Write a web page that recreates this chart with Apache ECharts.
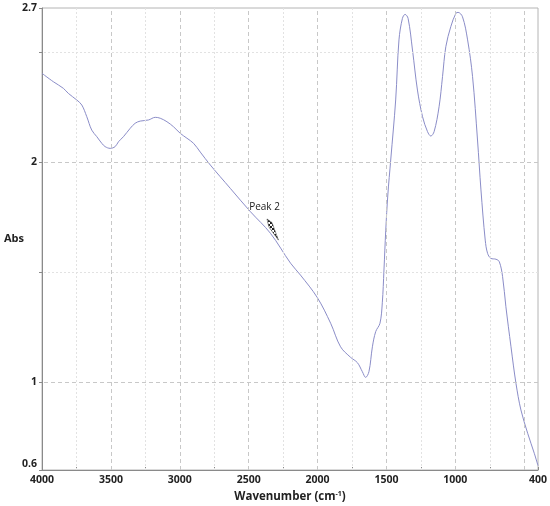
<!DOCTYPE html>
<html>
<head>
<meta charset="utf-8">
<script src="https://cdn.jsdelivr.net/npm/echarts@6/dist/echarts.min.js"></script>
<style>
  html, body { margin: 0; padding: 0; background: #fff; }
  #main { width: 550px; height: 506px; }
</style>
</head>
<body>
<div id="main"></div>
<script>
// spectrum (wavenumber, absorbance)
var wavenumbers = [4000, 3918, 3845, 3809, 3748, 3711, 3675, 3639, 3602, 3566, 3542, 3505, 3469, 3445,
  3409, 3360, 3324, 3287, 3227, 3178, 3142, 3093, 3045, 2996, 2948, 2900, 2851, 2778, 2633, 2487,
  2342, 2196, 2124, 2002, 1905, 1833, 1760, 1711, 1675, 1651, 1627, 1602, 1578, 1547, 1530, 1518,
  1505, 1490, 1469, 1433, 1409, 1384, 1365, 1343, 1311, 1275, 1238, 1202, 1178, 1154, 1118, 1093,
  1069, 1033, 996, 980, 948, 911, 875, 839, 814, 783, 766, 742, 705, 681, 657, 633, 596, 560, 524,
  475, 427, 400];
var absorbance = [2.403, 2.365, 2.335, 2.312, 2.282, 2.259, 2.206, 2.145, 2.115, 2.085, 2.070, 2.062, 2.070, 2.092,
  2.115, 2.153, 2.176, 2.186, 2.191, 2.203, 2.199, 2.183, 2.160, 2.130, 2.108, 2.085, 2.045, 1.986, 1.880, 1.774,
  1.676, 1.540, 1.486, 1.384, 1.267, 1.160, 1.112, 1.088, 1.047, 1.021, 1.047, 1.160, 1.229, 1.267, 1.360, 1.509,
  1.690, 1.850, 2.009, 2.282, 2.555, 2.653, 2.671, 2.653, 2.509, 2.327, 2.206, 2.138, 2.118, 2.138, 2.251, 2.388,
  2.524, 2.615, 2.676, 2.680, 2.660, 2.555, 2.388, 2.100, 1.873, 1.645, 1.585, 1.562, 1.558, 1.547, 1.479, 1.342, 1.160, 0.994, 0.873,
  0.767, 0.676, 0.620];

// axis ticks / labels
var xLabels = [4000, 3500, 3000, 2500, 2000, 1500, 1000, 400];
var xTicks = [4000, 3750, 3500, 3250, 3000, 2750, 2500, 2250, 2000, 1750, 1500, 1250, 1000, 750, 500, 400];
var xMajorGrid = [3500, 3000, 2500, 2000, 1500, 1000, 500];
var xMinorGrid = [3750, 3250, 2750, 2250, 1750, 1250, 750];
var yLabels = [0.6, 1, 2, 2.7];
var yTicks = [0.6, 1, 1.5, 2, 2.5, 2.7];
var yMajorGrid = [1, 2];
var yMinorGrid = [1.5, 2.5];

// "Peak 2" integration wedge
var peakName = 'Peak 2';
var peakWedgeX = [2367, 2331, 2284, 2353];
var peakWedgeY = [1.741, 1.725, 1.645, 1.705];
var peakLabelAt = [2385, 1.795];

var lineColor = '#8b8dc8';

var chart = echarts.init(document.getElementById('main'));

// small checkered fill for the wedge
var checker = document.createElement('canvas');
checker.width = 4; checker.height = 4;
var cx = checker.getContext('2d');
cx.fillStyle = '#fff'; cx.fillRect(0, 0, 4, 4);
cx.fillStyle = '#222'; cx.fillRect(0, 0, 2, 2); cx.fillRect(2, 2, 2, 2);

var seriesData = wavenumbers.map(function (w, i) { return [w, absorbance[i]]; });

var gridLines = [];
xMajorGrid.forEach(function (v) {
  gridLines.push({ xAxis: v, lineStyle: { color: '#c8c8c8', type: [4, 3], width: 1 } });
});
xMinorGrid.forEach(function (v) {
  gridLines.push({ xAxis: v, lineStyle: { color: '#e2e2e2', type: [2, 2], width: 1 } });
});
yMajorGrid.forEach(function (v) {
  gridLines.push({ yAxis: v, lineStyle: { color: '#c8c8c8', type: [4, 3], width: 1 } });
});
yMinorGrid.forEach(function (v) {
  gridLines.push({ yAxis: v, lineStyle: { color: '#e2e2e2', type: [2, 2], width: 1 } });
});

var labelFont = { color: '#222', fontSize: 10.5, fontWeight: 'bold', fontFamily: 'Open Sans' };

var option = {
  animation: false,
  backgroundColor: '#fff',
  grid: {
    left: 42, right: 12, top: 8, bottom: 36,
    outerBoundsMode: 'none', containLabel: false,
    show: true, borderColor: '#b4b4b4', borderWidth: 1
  },
  xAxis: {
    type: 'value',
    min: 400,
    max: 4000,
    inverse: true,
    name: '{a|Wavenumber (cm}{s|-1}{a|)}',
    nameLocation: 'middle',
    nameGap: 20,
    nameMoveOverlap: false,
    nameTextStyle: {
      rich: {
        a: { fontSize: 11.5, fontWeight: 'bold', color: '#222', fontFamily: 'Open Sans' },
        s: { fontSize: 7, fontWeight: 'bold', color: '#222', fontFamily: 'Open Sans', padding: [0, 0, 7, 0] }
      }
    },
    axisLine: { lineStyle: { color: '#8a8a8a', width: 1 } },
    axisTick: { inside: true, length: 3, customValues: xTicks, lineStyle: { color: '#8a8a8a' } },
    axisLabel: Object.assign({
      customValues: xLabels,
      margin: 5,
      formatter: function (v) { return String(v); }
    }, labelFont),
    splitLine: { show: false }
  },
  yAxis: {
    type: 'value',
    min: 0.6,
    max: 2.7,
    name: 'Abs',
    nameLocation: 'middle',
    nameRotate: 0,
    nameGap: 18,
    nameMoveOverlap: false,
    nameTextStyle: { fontSize: 11, fontWeight: 'bold', color: '#222', fontFamily: 'Open Sans' },
    axisLine: { lineStyle: { color: '#8a8a8a', width: 1 } },
    axisTick: { inside: false, length: 3, customValues: yTicks, lineStyle: { color: '#8a8a8a' } },
    axisLabel: Object.assign({
      customValues: yLabels,
      margin: 5,
      formatter: function (v) { return v === 0.6 ? '{lo|0.6}' : '' + v; },
      rich: { lo: { fontSize: 10.5, fontWeight: 'bold', color: '#222', fontFamily: 'Open Sans', padding: [0, 0, 11, 0] } }
    }, labelFont),
    splitLine: { show: false }
  },
  series: [
    {
      type: 'line',
      data: seriesData,
      smooth: 0.35,
      showSymbol: false,
      lineStyle: { color: lineColor, width: 1 },
      z: 3,
      markLine: {
        silent: true,
        symbol: ['none', 'none'],
        label: { show: false },
        animation: false,
        data: gridLines
      }
    },
    {
      type: 'custom',
      silent: true,
      z: 4,
      data: [[peakLabelAt[0], peakLabelAt[1]]],
      renderItem: function (params, api) {
        var pts = peakWedgeX.map(function (w, i) { return api.coord([w, peakWedgeY[i]]); });
        var lp = api.coord(peakLabelAt);
        return {
          type: 'group',
          children: [
            {
              type: 'polygon',
              shape: { points: pts },
              style: { fill: { image: checker, repeat: 'repeat' }, stroke: '#444', lineWidth: 0.6 }
            },
            {
              type: 'text',
              style: {
                text: peakName, x: lp[0], y: lp[1],
                align: 'center', verticalAlign: 'middle',
                fill: '#222', font: '10px "Open Sans"'
              }
            }
          ]
        };
      }
    }
  ]
};

chart.setOption(option);
</script>
</body>
</html>
